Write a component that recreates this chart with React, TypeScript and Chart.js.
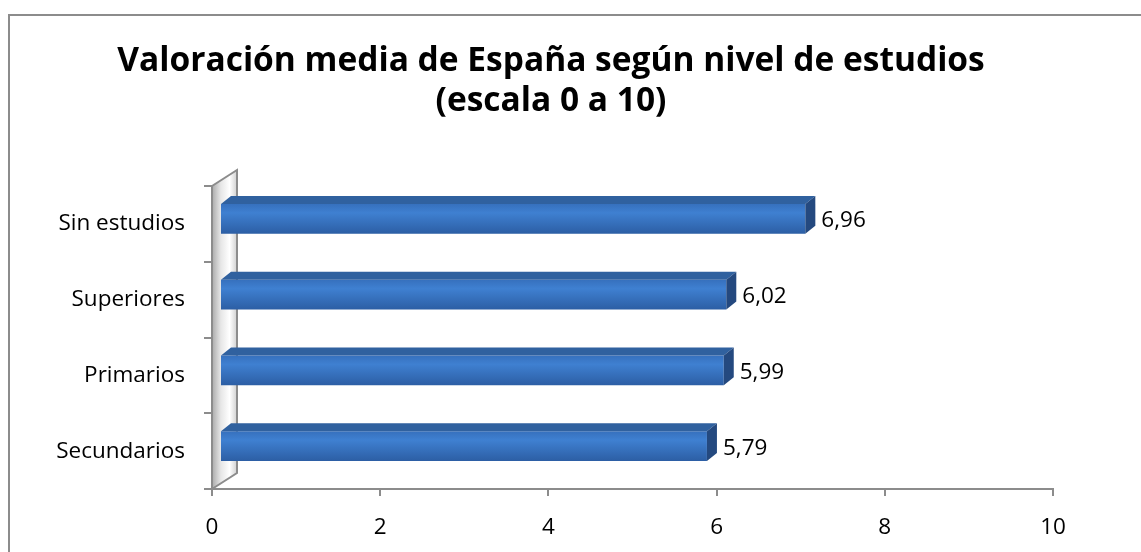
import React, { useEffect, useRef } from "react";
import { Chart, registerables } from "chart.js";

Chart.register(...registerables);

// ---- data ----
const categories = ["Sin estudios", "Superiores", "Primarios", "Secundarios"];
const values = [6.96, 6.02, 5.99, 5.79];
const titleLines = ["Valoración media de España según nivel de estudios", "(escala 0 a 10)"];
const xMin = 0;
const xMax = 10;
const xStep = 2;

// ---- style ----
const FONT = "'Open Sans', Lato, sans-serif";
const TICK_SIZE = 22.5;
const TITLE_SIZE = 29;
const TITLE_WIDTH = 868;
const AXIS_GRAY = "#8c8c8c";
const BAR_PCT = 0.396;
const DEPTH_X = 10;
const DEPTH_Y = -8;
const SHIFT_X = 8;
const SHIFT_Y = -5;
const WALL_X = 25;
const WALL_Y = -16;

const fmt = (v: number) => v.toFixed(2).replace(".", ",");

const excel3d = {
  id: "excel3d",
  beforeDraw(chart: any) {
    const { ctx, width, height } = chart;
    const { left, top, bottom } = chart.chartArea;
    ctx.save();
    ctx.fillStyle = "#ffffff";
    ctx.fillRect(0, 0, width, height);
    // outer frame
    ctx.strokeStyle = AXIS_GRAY;
    ctx.lineWidth = 2;
    ctx.beginPath();
    ctx.moveTo(9, height);
    ctx.lineTo(9, 15);
    ctx.lineTo(width, 15);
    ctx.stroke();
    // title
    ctx.fillStyle = "#000";
    ctx.font = `bold ${TITLE_SIZE}px ${FONT}`;
    const w0 = ctx.measureText(titleLines[0]).width;
    const size = w0 > 0 ? (TITLE_SIZE * TITLE_WIDTH) / w0 : TITLE_SIZE;
    ctx.font = `bold ${size.toFixed(1)}px ${FONT}`;
    ctx.textAlign = "center";
    ctx.textBaseline = "middle";
    titleLines.forEach((t, i) => ctx.fillText(t, 551, 61 + i * 40));
    // side wall
    const g = ctx.createLinearGradient(left, 0, left + WALL_X, 0);
    g.addColorStop(0, "#aaaaaa");
    g.addColorStop(0.35, "#e6e6e6");
    g.addColorStop(0.7, "#ffffff");
    g.addColorStop(1, "#d0d0d0");
    ctx.fillStyle = g;
    ctx.beginPath();
    ctx.moveTo(left, top);
    ctx.lineTo(left + WALL_X, top + WALL_Y);
    ctx.lineTo(left + WALL_X, bottom + WALL_Y);
    ctx.lineTo(left, bottom);
    ctx.closePath();
    ctx.fill();
    ctx.strokeStyle = AXIS_GRAY;
    ctx.lineWidth = 2;
    ctx.stroke();
    ctx.restore();
  },
  beforeDatasetsDraw(chart: any) {
    chart.ctx.save();
    chart.ctx.translate(SHIFT_X, SHIFT_Y);
  },
  afterDatasetsDraw(chart: any) {
    const ctx = chart.ctx;
    const meta = chart.getDatasetMeta(0);
    meta.data.forEach((el: any, i: number) => {
      const { x, y, base, height } = el.getProps(["x", "y", "base", "height"], true);
      const t = y - height / 2;
      const b = y + height / 2;
      // top face
      ctx.fillStyle = "#30619f";
      ctx.beginPath();
      ctx.moveTo(base, t);
      ctx.lineTo(x, t);
      ctx.lineTo(x + DEPTH_X, t + DEPTH_Y);
      ctx.lineTo(base + DEPTH_X, t + DEPTH_Y);
      ctx.closePath();
      ctx.fill();
      // side face
      ctx.fillStyle = "#24497f";
      ctx.beginPath();
      ctx.moveTo(x, t);
      ctx.lineTo(x + DEPTH_X, t + DEPTH_Y);
      ctx.lineTo(x + DEPTH_X, b + DEPTH_Y);
      ctx.lineTo(x, b);
      ctx.closePath();
      ctx.fill();
      // value label
      ctx.fillStyle = "#000";
      ctx.font = `${TICK_SIZE}px ${FONT}`;
      ctx.textAlign = "left";
      ctx.textBaseline = "middle";
      ctx.fillText(fmt(values[i]), x + DEPTH_X + 6, y + 2);
    });
    ctx.restore();
  },
};

export default function App() {
  const ref = useRef<HTMLCanvasElement>(null);
  useEffect(() => {
    if (!ref.current) return;
    const chart = new Chart(ref.current, {
      type: "bar",
      data: {
        labels: categories,
        datasets: [
          {
            data: values,
            barPercentage: BAR_PCT,
            categoryPercentage: 1,
            borderWidth: 0,
            backgroundColor: (c: any) => {
              const ch = c.chart;
              const ys = ch.scales && ch.scales.y;
              if (!ys || c.dataIndex === undefined) return "#3a78c6";
              const yc = ys.getPixelForValue(c.dataIndex);
              const half = (Math.abs(ys.getPixelForValue(1) - ys.getPixelForValue(0)) * BAR_PCT) / 2;
              if (!isFinite(yc) || !isFinite(half) || half <= 0) return "#3a78c6";
              const g = ch.ctx.createLinearGradient(0, yc - half, 0, yc + half);
              g.addColorStop(0, "#3670bd");
              g.addColorStop(0.3, "#3f80d1");
              g.addColorStop(1, "#2c5ea4");
              return g;
            },
          },
        ],
      },
      options: {
        indexAxis: "y",
        responsive: false,
        animation: false,
        devicePixelRatio: 1,
        layout: { padding: { top: 186, right: 88, bottom: 0, left: 0 } },
        plugins: {
          legend: { display: false },
          tooltip: { enabled: false },
          title: { display: false },
        },
        scales: {
          x: {
            type: "linear",
            position: "bottom",
            min: xMin,
            max: xMax,
            afterFit: (s: any) => {
              s.height = 63;
            },
            ticks: {
              stepSize: xStep,
              color: "#000",
              font: { family: FONT, size: TICK_SIZE },
              padding: 18,
              maxRotation: 0,
            },
            grid: { drawOnChartArea: false, drawTicks: true, tickLength: 7, color: AXIS_GRAY, lineWidth: 2 },
            border: { display: true, color: AXIS_GRAY, width: 2 },
          },
          y: {
            type: "category",
            position: "left",
            afterFit: (s: any) => {
              s.width = 212;
            },
            ticks: {
              color: "#000",
              font: { family: FONT, size: TICK_SIZE },
              padding: 19,
            },
            grid: { offset: true, drawOnChartArea: false, drawTicks: true, tickLength: 8, color: AXIS_GRAY, lineWidth: 2 },
            border: { display: true, color: AXIS_GRAY, width: 2 },
          },
        },
      },
      plugins: [excel3d],
    });
    return () => chart.destroy();
  }, []);
  return (
    <canvas
      ref={ref}
      width={1141}
      height={552}
      style={{ position: "fixed", left: 0, top: 0, width: 1141, height: 552 }}
    />
  );
}
